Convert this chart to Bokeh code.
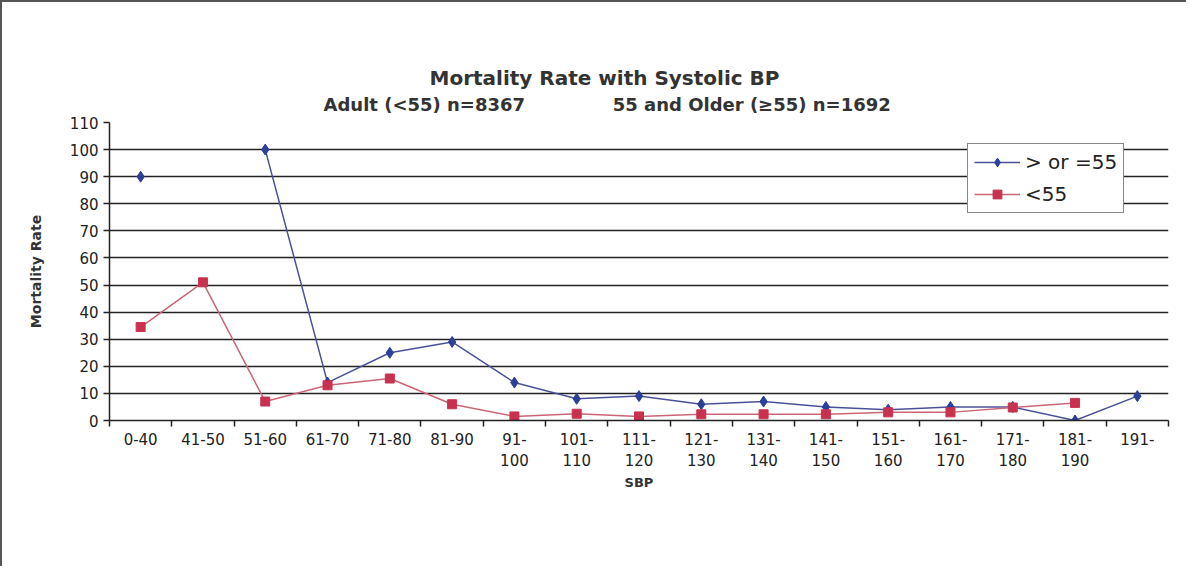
import math
from bokeh.plotting import figure
from bokeh.models import FixedTicker, Title, Legend, LegendItem
from bokeh.embed import file_html
from bokeh.resources import INLINE

categories = ["0-40", "41-50", "51-60", "61-70", "71-80", "81-90", "91-100",
              "101-110", "111-120", "121-130", "131-140", "141-150", "151-160",
              "161-170", "171-180", "181-190", "191-"]
tick_labels = ["0-40", "41-50", "51-60", "61-70", "71-80", "81-90", "91-\n100",
               "101-\n110", "111-\n120", "121-\n130", "131-\n140", "141-\n150",
               "151-\n160", "161-\n170", "171-\n180", "181-\n190", "191-"]
nan = float("nan")
older = [90, nan, 100, 14, 25, 29, 14, 8, 9, 6, 7, 5, 4, 5, 5, 0, 9]
adult = [34.5, 51, 7, 13, 15.5, 6, 1.5, 2.5, 1.5, 2.3, 2.3, 2.3, 3, 3, 4.8, 6.5, nan]
y_ticks = list(range(0, 111, 10))

FONT = "DejaVu Sans"
n = len(categories)
xs = [i + 0.5 for i in range(n)]

p = figure(width=1186, height=566, output_backend="svg", toolbar_location=None,
           x_range=(0, n), y_range=(0, 110),
           min_border_left=107, min_border_right=20, min_border_top=120,
           min_border_bottom=148)
p.title = None
p.styles = {"border-left": "2px solid #555", "border-top": "2px solid #555"}
p.background_fill_color = "white"
p.border_fill_color = "white"
p.outline_line_color = None

# titles (second line added first so it sits closest to the frame)
t2 = Title(text="Adult (<55) n=8367" + "\u00a0" * 14 + "55 and Older (\u226555) n=1692",
           align="left", text_font=FONT, text_font_size="18px",
           text_font_style="bold", text_color="#333333", offset=214, standoff=16)
t1 = Title(text="Mortality Rate with Systolic BP", align="left", text_font=FONT,
           text_font_size="20px", text_font_style="bold", text_color="#333333",
           offset=320, standoff=-13)
p.add_layout(t2, "above")
p.add_layout(t1, "above")

# grid
p.xgrid.visible = False
p.ygrid.ticker = FixedTicker(ticks=y_ticks[1:-1])
p.ygrid.grid_line_color = "#222222"
p.ygrid.grid_line_width = 1.5

# y axis
p.yaxis.ticker = FixedTicker(ticks=y_ticks)
p.yaxis.axis_label = "Mortality Rate"
p.yaxis.axis_label_text_font = FONT
p.yaxis.axis_label_text_font_size = "14px"
p.yaxis.axis_label_text_font_style = "bold"
p.yaxis.axis_label_text_color = "#333333"
p.yaxis.axis_label_standoff = 23
p.yaxis.major_label_text_font = FONT
p.yaxis.major_label_text_font_size = "15px"
p.yaxis.major_label_text_color = "#222222"
p.yaxis.major_tick_out = 6
p.yaxis.major_tick_in = 0
p.yaxis.minor_tick_line_color = None
p.yaxis.axis_line_color = "#222222"
p.yaxis.axis_line_width = 1.5
p.yaxis.major_tick_line_color = "#222222"
p.yaxis.major_tick_line_width = 1.5

# x axis: labels at category centres, tick marks at boundaries
p.xaxis.ticker = FixedTicker(ticks=xs, minor_ticks=list(range(0, n + 1)))
p.xaxis.major_label_overrides = {x: lab for x, lab in zip(xs, tick_labels)}
p.xaxis.major_tick_line_color = None
p.xaxis.major_tick_out = 0
p.xaxis.minor_tick_out = 6
p.xaxis.minor_tick_in = 0
p.xaxis.minor_tick_line_color = "#222222"
p.xaxis.minor_tick_line_width = 1.5
p.xaxis.axis_line_color = "#222222"
p.xaxis.axis_line_width = 1.5
p.xaxis.major_label_text_font = FONT
p.xaxis.major_label_text_font_size = "15px"
p.xaxis.major_label_text_color = "#222222"
p.xaxis.major_label_text_line_height = 1.2
p.xaxis.major_label_standoff = 4
p.xaxis.axis_label = "SBP"
p.xaxis.axis_label_text_font = FONT
p.xaxis.axis_label_text_font_size = "13px"
p.xaxis.axis_label_text_font_style = "bold"
p.xaxis.axis_label_text_color = "#333333"
p.xaxis.axis_label_standoff = 2

# series
l1 = p.line(xs, older, line_color="#4a5198", line_width=1.5)
m1 = p.scatter(xs, older, marker="diamond", size=11, fill_color="#2c3f99",
               line_color="#2c3f99")
l2 = p.line(xs, adult, line_color="#cc6677", line_width=1.5)
m2 = p.scatter(xs, adult, marker="square", size=9, fill_color="#c8324f",
               line_color="#c8324f")

legend = Legend(items=[LegendItem(label="> or =55", renderers=[l1, m1]),
                       LegendItem(label="<55", renderers=[l2, m2])],
                location=(858, 207), orientation="vertical")
legend.label_text_font = FONT
legend.label_text_font_size = "20px"
legend.label_text_color = "#222222"
legend.glyph_width = 46
legend.glyph_height = 22
legend.spacing = 8
legend.padding = 6
legend.margin = 0
legend.border_line_color = "#111111"
legend.border_line_width = 1.5
legend.background_fill_color = "white"
legend.background_fill_alpha = 1.0
p.add_layout(legend, "center")

open("out.html", "w").write(file_html(p, INLINE))
